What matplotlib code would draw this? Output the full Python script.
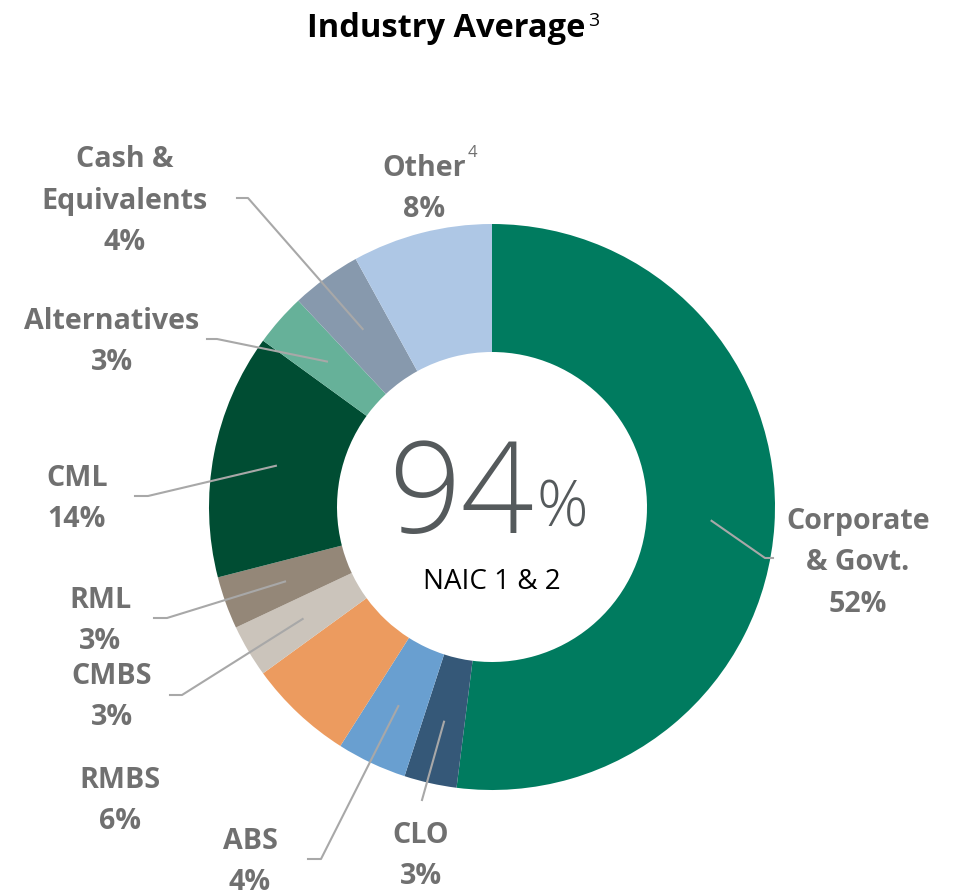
import numpy as np
import matplotlib.pyplot as plt
from matplotlib import font_manager

# datos del gráfico
categories = ["Corporate\n& Govt.", "CLO", "ABS", "RMBS", "CMBS", "RML",
              "CML", "Alternatives", "Cash &\nEquivalents", "Other"]
shares = [52, 3, 4, 6, 3, 3, 14, 3, 4, 8]
colors = ["#007B5F", "#355878", "#699FD0", "#EC9B5F", "#CBC4BB", "#948778",
          "#004D33", "#66B199", "#8799AD", "#AEC7E5"]
naic_share = 94
naic_label = "NAIC 1 & 2"
title = "Industry Average"

W, H = 957, 896
CX, CY = 492, H - 507
R_OUT, R_IN = 283, 155
LABEL_GRAY = "#707070"
LINE_GRAY = "#A8A8A8"

# posición de cada etiqueta (centro del bloque) y del codo de la línea guía, en píxeles
label_pos = [(858, 563), (421, 856), (250, 862), (120, 801), (112, 697),
             (100, 621), (77, 499), (112, 342), (125, 201), (424, 189)]
elbows = [((765, 558), (773, 558)), None, ((321, 859), (308, 859)), None,
          ((182, 695), (170, 695)), ((167, 618), (154, 618)),
          ((148, 496), (135, 496)), ((217, 339), (207, 339)),
          ((248, 198), (237, 198)), None]
clo_end = (422, 800)

names = set(font_manager.get_font_names())
base_font = "Open Sans" if "Open Sans" in names else "DejaVu Sans"
plt.rcParams["font.family"] = [base_font, "DejaVu Sans"]

fig = plt.figure(figsize=(W / 100, H / 100), dpi=100)
ax = fig.add_axes([0, 0, 1, 1])

wedges, _ = ax.pie(shares, colors=colors, startangle=90, counterclock=False,
                   radius=R_OUT, center=(CX, CY), frame=True,
                   wedgeprops=dict(width=R_OUT - R_IN, linewidth=0))
ax.set_xlim(0, W)
ax.set_ylim(0, H)
ax.set_aspect("equal")
ax.axis("off")

for i, w in enumerate(wedges):
    ang = np.deg2rad((w.theta1 + w.theta2) / 2)
    sx, sy = CX + 220 * np.cos(ang), CY + 220 * np.sin(ang)
    if elbows[i] is not None:
        (ex, ey), (fx, fy) = elbows[i]
        ax.plot([sx, ex, fx], [sy, H - ey, H - fy], color=LINE_GRAY, lw=1.5)
    elif categories[i] == "CLO":
        ax.plot([sx, clo_end[0]], [sy, H - clo_end[1]], color=LINE_GRAY, lw=1.5)

    lx, ly = label_pos[i]
    ax.text(lx, H - ly, f"{categories[i]}\n{shares[i]}%", ha="center", va="center",
            fontsize=20.6, fontweight="bold", color=LABEL_GRAY, linespacing=1.55)

# superíndice de "Other"
ax.text(468, H - 153, "4", fontsize=12, color=LABEL_GRAY, ha="left", va="center")

# título
ax.text(446, H - 28, title, fontsize=23.5, fontweight="bold", color="black",
        ha="center", va="center")
ax.text(588, H - 21, "3", fontsize=14, color="black", ha="left", va="center")

# texto central
ax.text(534, H - 500, f"{naic_share}", fontsize=92, fontweight="light",
        color="#555A5C", ha="right", va="center")
ax.text(536, H - 510, "%", fontsize=46, fontweight="light", color="#555A5C",
        ha="left", va="center")
ax.text(492, H - 582, naic_label, fontsize=20, color="black", ha="center", va="center")

fig.savefig("out.png", dpi=100, facecolor="white")
